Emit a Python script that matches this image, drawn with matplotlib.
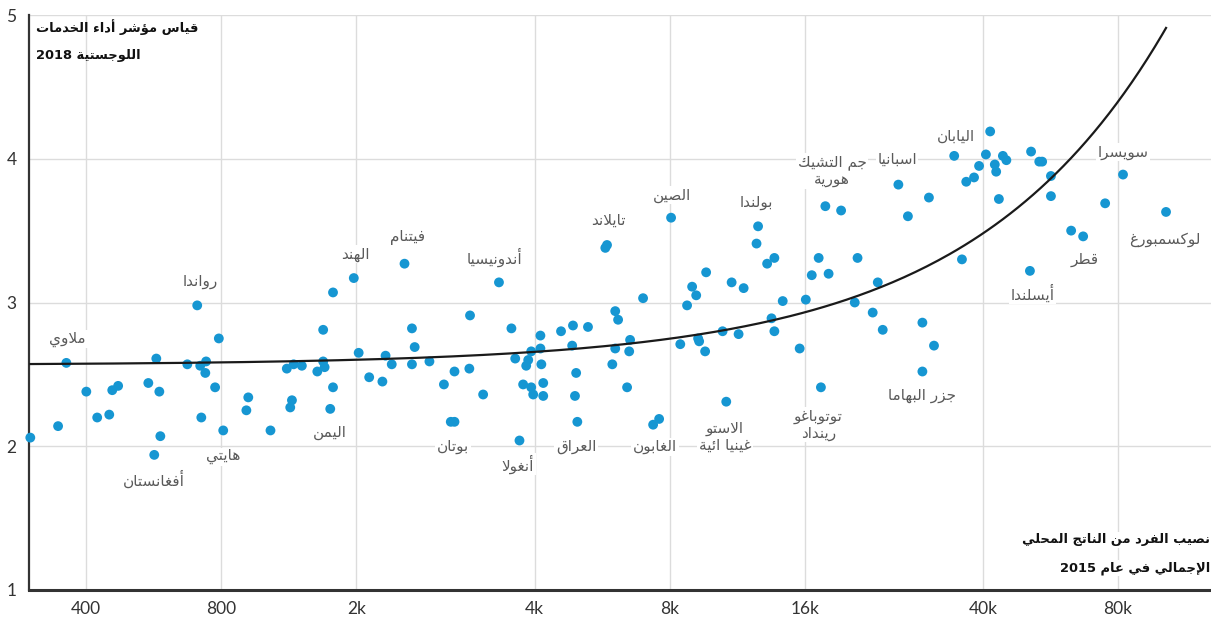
import re
import matplotlib
matplotlib.use("Agg")
import matplotlib.pyplot as plt
from matplotlib.ticker import FixedLocator, FixedFormatter, NullLocator

# ---------------------------------------------------------------------------
# Data: GDP per capita 2015 (US$) and Logistics Performance Index 2018
# ---------------------------------------------------------------------------
named_countries = [
    "ملاوي", "رواندا", "أفغانستان", "هايتي", "اليمن", "الهند", "فيتنام",
    "بوتان", "أندونيسيا", "أنغولا", "العراق", "تايلاند", "الصين", "الغابون",
    "بولندا", "الاستو\nغينيا ائية", "جم التشيك\nهورية", "توتوباغو\nرينداد",
    "اسبانيا", "جزر البهاما", "اليابان", "سويسرا", "لوكسمبورغ", "قطر", "أيسلندا",
]
named_gdp = [
    361, 707, 567, 808, 1400, 1580, 2050,
    2650, 3330, 3700, 4980, 5800, 8060, 7580,
    12600, 10700, 17800, 17400,
    25900, 29300, 34500, 82100, 102400, 66900, 50900,
]
named_lpi = [
    2.58, 2.98, 1.94, 2.11, 2.26, 3.17, 3.27,
    2.17, 3.14, 2.04, 2.17, 3.40, 3.59, 2.19,
    3.53, 2.31, 3.67, 2.41,
    3.82, 2.52, 4.02, 3.89, 3.63, 3.46, 3.22,
]

other_gdp = [
    300, 346, 400, 423, 450, 457, 471, 550, 573, 582, 585, 672, 718, 740, 737,
    722, 790, 775, 919, 910, 1030, 1120, 1160, 1210, 1150, 1140, 1350, 1350,
    1360, 1310, 1420, 1420, 1620, 1710, 1830, 1860, 1920, 2130, 2160, 2130,
    2330, 2870, 2650, 2860, 2510, 3070, 2600, 3550, 3620, 3830, 3870, 3930,
    4120, 4120, 4140, 3770, 3930, 3970, 4180, 4180, 4580, 4870, 5260, 4850,
    4950, 4920, 5750, 6050, 6140, 6530, 6050, 6500, 5960, 6430, 6980, 7350,
    8750, 8450, 9260, 9310, 9600, 8980, 9170, 9650, 10500, 11400, 11000,
    11700, 12500, 13200, 13700, 13500, 13700, 14300, 15600, 16100, 16600,
    17200, 18100, 19300, 20700, 21000, 22700, 23300, 23900, 27200, 30300,
    29300, 31100, 41500, 40600, 44300, 39200, 42500, 42800, 38200, 36700,
    43400, 45100, 35900, 51200, 53400, 54200, 56700, 56700, 74900, 62900,
]
other_lpi = [
    2.06, 2.14, 2.38, 2.20, 2.22, 2.39, 2.42, 2.44, 2.61, 2.38, 2.07, 2.57, 2.56, 2.59, 2.51,
    2.20, 2.75, 2.41, 2.34, 2.25, 2.11, 2.54, 2.57, 2.56, 2.32, 2.27, 2.81, 2.59,
    2.55, 2.52, 2.41, 3.07, 2.65, 2.48, 2.45, 2.63, 2.57, 2.82, 2.69, 2.57,
    2.59, 2.91, 2.52, 2.54, 2.43, 2.36, 2.17, 2.82, 2.61, 2.56, 2.60, 2.66,
    2.68, 2.77, 2.57, 2.43, 2.41, 2.36, 2.44, 2.35, 2.80, 2.84, 2.83, 2.70,
    2.51, 2.35, 3.38, 2.94, 2.88, 2.74, 2.68, 2.66, 2.57, 2.41, 3.03, 2.15,
    2.98, 2.71, 2.75, 2.73, 2.66, 3.11, 3.05, 3.21, 2.80, 2.78, 3.14,
    3.10, 3.41, 3.27, 3.31, 2.89, 2.80, 3.01, 2.68, 3.02, 3.19,
    3.31, 3.20, 3.64, 3.00, 3.31, 2.93, 3.14, 2.81, 3.60, 3.73,
    2.86, 2.70, 4.19, 4.03, 4.02, 3.95, 3.96, 3.91, 3.87, 3.84,
    3.72, 3.99, 3.30, 4.05, 3.98, 3.98, 3.88, 3.74, 3.69, 3.50,
]

# Linear trend of LPI on GDP per capita
trend_intercept = 2.565
trend_slope = 2.29e-5

x_ticks = [400, 800, 1600, 4000, 8000, 16000, 40000, 80000]
x_tick_labels = ["400", "800", "2k", "4k", "8k", "16k", "40k", "80k"]
y_ticks = [1, 2, 3, 4, 5]

y_title = ["قياس مؤشر أداء الخدمات", "اللوجستية 2018"]
x_title = ["نصيب الفرد من الناتج المحلي", "الإجمالي في عام 2015"]

# label offsets (points) from each named country's marker
label_offsets = {
    "ملاوي": (1, 17), "رواندا": (2, 17), "أفغانستان": (0, -18), "هايتي": (0, -19),
    "اليمن": (0, -17), "الهند": (1, 17), "فيتنام": (2, 19), "بوتان": (-1, -18),
    "أندونيسيا": (-3, 18), "أنغولا": (-1, -17), "العراق": (-1, -18),
    "تايلاند": (1, 18), "الصين": (1, 16), "الغابون": (-3, -20), "بولندا": (-1, 17),
    "الاستو\nغينيا ائية": (-1, -25), "جم التشيك\nهورية": (5, 25),
    "توتوباغو\nرينداد": (-2, -27), "اسبانيا": (-1, 18), "جزر البهاما": (0, -17),
    "اليابان": (1, 14), "سويسرا": (0, 16), "لوكسمبورغ": (-1, -20), "قطر": (1, -17),
    "أيسلندا": (2, -16),
}

# ---------------------------------------------------------------------------
# Arabic contextual shaping + right-to-left ordering for matplotlib text
# ---------------------------------------------------------------------------
_AR = [
    ("\u0621", 0xFE80, 1), ("\u0622", 0xFE81, 2), ("\u0623", 0xFE83, 2),
    ("\u0624", 0xFE85, 2), ("\u0625", 0xFE87, 2), ("\u0626", 0xFE89, 4),
    ("\u0627", 0xFE8D, 2), ("\u0628", 0xFE8F, 4), ("\u0629", 0xFE93, 2),
    ("\u062A", 0xFE95, 4), ("\u062B", 0xFE99, 4), ("\u062C", 0xFE9D, 4),
    ("\u062D", 0xFEA1, 4), ("\u062E", 0xFEA5, 4), ("\u062F", 0xFEA9, 2),
    ("\u0630", 0xFEAB, 2), ("\u0631", 0xFEAD, 2), ("\u0632", 0xFEAF, 2),
    ("\u0633", 0xFEB1, 4), ("\u0634", 0xFEB5, 4), ("\u0635", 0xFEB9, 4),
    ("\u0636", 0xFEBD, 4), ("\u0637", 0xFEC1, 4), ("\u0638", 0xFEC5, 4),
    ("\u0639", 0xFEC9, 4), ("\u063A", 0xFECD, 4), ("\u0641", 0xFED1, 4),
    ("\u0642", 0xFED5, 4), ("\u0643", 0xFED9, 4), ("\u0644", 0xFEDD, 4),
    ("\u0645", 0xFEE1, 4), ("\u0646", 0xFEE5, 4), ("\u0647", 0xFEE9, 4),
    ("\u0648", 0xFEED, 2), ("\u0649", 0xFEEF, 2), ("\u064A", 0xFEF1, 4),
]
_FORMS = {c: (base, n) for c, base, n in _AR}
_LAM_ALEF = {"\u0622": 0xFEF5, "\u0623": 0xFEF7, "\u0625": 0xFEF9, "\u0627": 0xFEFB}


def _shape(line):
    toks = []
    i = 0
    while i < len(line):
        c = line[i]
        if c == "\u0644" and i + 1 < len(line) and line[i + 1] in _LAM_ALEF:
            toks.append(("LA", line[i + 1]))
            i += 2
        else:
            toks.append(("C", c))
            i += 1

    def links_next(t):
        return t[0] == "C" and t[1] in _FORMS and _FORMS[t[1]][1] == 4

    def links_prev(t):
        return t[0] == "LA" or (t[1] in _FORMS and _FORMS[t[1]][1] >= 2)

    out = []
    for k, t in enumerate(toks):
        prev = toks[k - 1] if k > 0 else None
        nxt = toks[k + 1] if k + 1 < len(toks) else None
        jp = prev is not None and links_next(prev) and links_prev(t)
        jn = nxt is not None and links_next(t) and links_prev(nxt)
        if t[0] == "LA":
            out.append(chr(_LAM_ALEF[t[1]] + (1 if jp else 0)))
            continue
        c = t[1]
        if c not in _FORMS:
            out.append(c)
            continue
        base, n = _FORMS[c]
        if n == 1:
            out.append(chr(base))
        elif n == 2:
            out.append(chr(base + (1 if jp else 0)))
        else:
            if jp and jn:
                out.append(chr(base + 3))
            elif jp:
                out.append(chr(base + 1))
            elif jn:
                out.append(chr(base + 2))
            else:
                out.append(chr(base))
    return "".join(out)


def ar(text):
    lines = []
    for line in text.split("\n"):
        vis = _shape(line)[::-1]
        vis = re.sub(r"[0-9A-Za-z.]+", lambda m: m.group(0)[::-1], vis)
        lines.append(vis)
    return "\n".join(lines)


# ---------------------------------------------------------------------------
# Figure
# ---------------------------------------------------------------------------
W, H = 1211, 622
fig = plt.figure(figsize=(W / 100, H / 100), dpi=100)
ax = fig.add_axes([29 / W, 32 / H, (W - 29) / W, 575 / H])

blue = "#1696d2"
grid_c = "#dcdcdc"
axis_c = "#333333"
label_c = "#5a5a5a"
ar_font = ["DejaVu Sans"]

ax.set_xscale("log")
ax.set_xlim(298, 129000)
ax.set_ylim(1, 5)

ax.xaxis.set_major_locator(FixedLocator(x_ticks))
ax.xaxis.set_major_formatter(FixedFormatter(x_tick_labels))
ax.xaxis.set_minor_locator(NullLocator())
ax.yaxis.set_major_locator(FixedLocator(y_ticks))
ax.tick_params(axis="both", length=0, labelsize=12.5, labelcolor=axis_c)
ax.tick_params(axis="x", pad=8)
ax.tick_params(axis="y", pad=9)
for lab in ax.get_xticklabels() + ax.get_yticklabels():
    lab.set_fontfamily("Lato")

ax.grid(True, color=grid_c, linewidth=1.0, zorder=0)
ax.set_axisbelow(True)
for side in ("top", "right"):
    ax.spines[side].set_visible(False)
ax.spines["left"].set_color(axis_c)
ax.spines["left"].set_linewidth(1.6)
ax.spines["bottom"].set_color(axis_c)
ax.spines["bottom"].set_linewidth(2.2)

all_gdp = other_gdp + named_gdp
all_lpi = other_lpi + named_lpi
ax.scatter(all_gdp, all_lpi, s=50, color=blue, edgecolors="none",
           zorder=3, clip_on=False)

# trend line from the poorest to the richest economy
gmin, gmax = min(all_gdp), max(all_gdp)
n = 300
tg = [gmin * (gmax / gmin) ** (i / (n - 1)) for i in range(n)]
tl = [trend_intercept + trend_slope * g for g in tg]
ax.plot(tg, tl, color="#1a1a1a", linewidth=1.6, zorder=4)

for name, g, v in zip(named_countries, named_gdp, named_lpi):
    dx, dy = label_offsets[name]
    ax.annotate(ar(name), (g, v), xytext=(dx, dy), textcoords="offset points",
                ha="center", va="center", fontsize=11, color=label_c,
                family=ar_font, linespacing=1.15, zorder=2,
                bbox=dict(boxstyle="square,pad=0.1", facecolor="white",
                          edgecolor="none"))

# axis titles
title_kw = dict(va="center", fontsize=9.4, fontweight="bold",
                family=ar_font, color="#111111")
fig.text(36 / W, 1 - 27 / H, ar(y_title[0]), ha="left", **title_kw)
fig.text(36 / W, 1 - 55 / H, ar(y_title[1]), ha="left", **title_kw)
box = dict(boxstyle="square,pad=0.1", facecolor="white", edgecolor="none")
fig.text(1210 / W, 1 - 540 / H, ar(x_title[0]), ha="right", bbox=box, **title_kw)
fig.text(1210 / W, 1 - 568 / H, ar(x_title[1]), ha="right", bbox=box, **title_kw)

fig.savefig("out.png", dpi=100)
